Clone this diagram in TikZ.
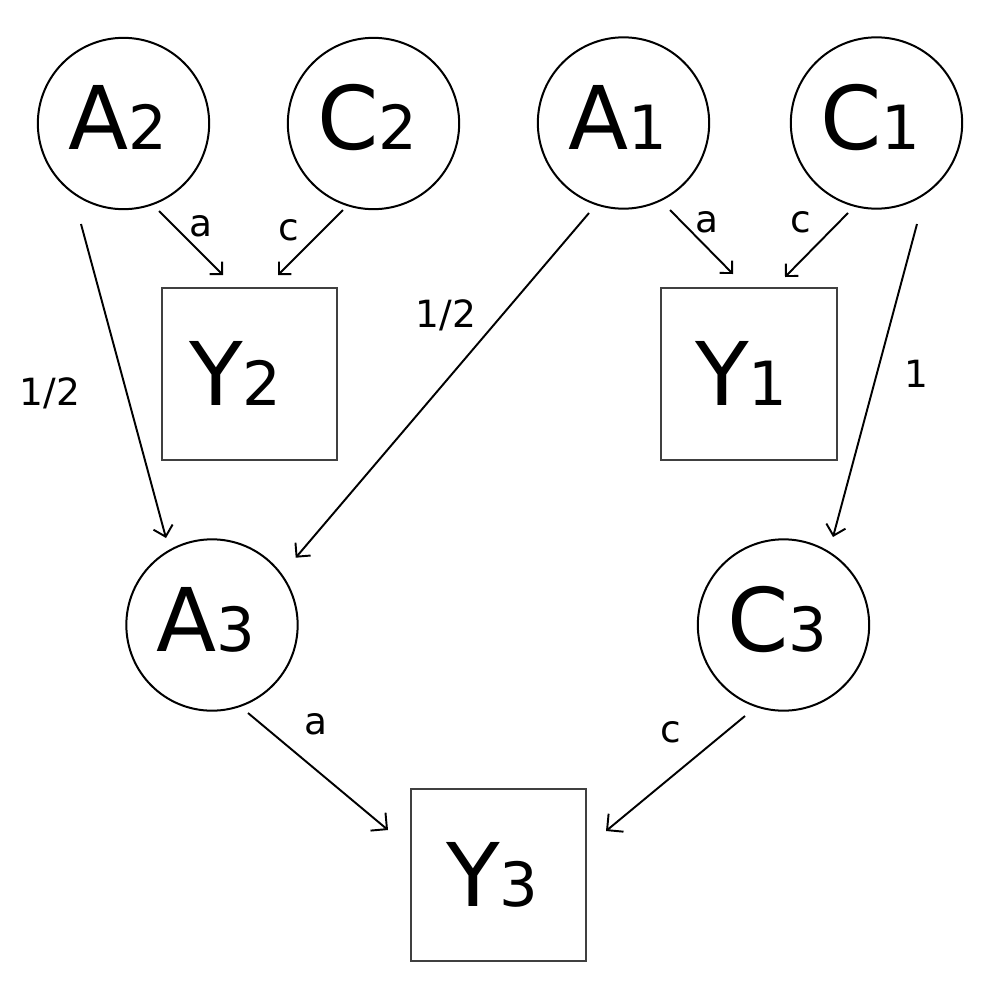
\documentclass[tikz,border=0pt]{standalone}
\usepackage{fontspec}
\setmainfont{DejaVu Sans}
\usetikzlibrary{arrows.meta}
\newcommand\BigTxt[1]{{\fontsize{75}{75}\selectfont #1}}
\newcommand\DigTxt[1]{{\fontsize{52}{52}\selectfont #1}}
\definecolor{boxgray}{HTML}{404040}
\begin{document}
\begin{tikzpicture}[x=0.3mm,y=-0.3mm,
  circnode/.style={circle, draw=black, line width=0.6mm, minimum size=51.4mm, inner sep=0pt, text height=55pt, text depth=10pt},
  boxnode/.style={rectangle, draw=boxgray, line width=0.6mm, minimum width=52.6mm, minimum height=51.6mm, inner sep=0pt},
  lab/.style={font=\fontsize{32}{32}\selectfont, inner sep=0pt, anchor=base},
  arrS/.style={line width=0.58mm, -{Straight Barb[length=2.65mm,width=5.3mm]}},
  arrM/.style={line width=0.58mm, -{Straight Barb[length=2.97mm,width=5.94mm]}},
  arrL/.style={line width=0.58mm, -{Straight Barb[length=3.5mm,width=7mm]}}]
\useasboundingbox (0,0) rectangle (1000,1000);
% circles
\node[circnode] (A2) at (123.5,123.5) {\BigTxt{A}\DigTxt{2}\kern3.6mm};
\node[circnode] (C2) at (373.5,123.5) {\BigTxt{C}\DigTxt{2}\kern3.6mm};
\node[circnode] (A1) at (623.5,123) {\BigTxt{A}\DigTxt{1}\kern3.6mm};
\node[circnode] (C1) at (876.5,123) {\BigTxt{C}\DigTxt{1}\kern3.6mm};
\node[circnode] (A3) at (212,625) {\BigTxt{A}\DigTxt{3}\kern3.6mm};
\node[circnode] (C3) at (783.5,625) {\BigTxt{C}\DigTxt{3}\kern3.6mm};
% boxes
\node[boxnode] (Y2) at (249.5,373.5) {\BigTxt{Y}\DigTxt{2}\kern8.4mm};
\node[boxnode] (Y1) at (749,373.5) {\BigTxt{Y}\DigTxt{1}\kern4.5mm};
\node[boxnode] (Y3) at (498.5,875) {\BigTxt{Y}\DigTxt{3}\kern3.6mm};
% connectors
\draw[arrS] ([shift={(35.5,87.5)}]A2.center) -- ([shift={(-26.5,-98.5)}]Y2.center);
\draw[arrS] ([shift={(-30.5,86.5)}]C2.center) -- ([shift={(28.5,-98.5)}]Y2.center);
\draw[arrM] ([shift={(-42.5,100.5)}]A2.center) -- ([shift={(-46,-87)}]A3.center);
\draw[arrM] ([shift={(-34.5,90)}]A1.center) -- ([shift={(83.7,-67.3)}]A3.center);
\draw[arrS] ([shift={(46.5,87)}]A1.center) -- ([shift={(-16,-99.5)}]Y1.center);
\draw[arrS] ([shift={(-28.5,90)}]C1.center) -- ([shift={(36,-96.5)}]Y1.center);
\draw[arrM] ([shift={(40.5,101)}]C1.center) -- ([shift={(49.5,-88)}]C3.center);
\draw[arrL] ([shift={(36,88)}]A3.center) -- ([shift={(-110.5,-45)}]Y3.center);
\draw[arrL] ([shift={(-38.5,91)}]C3.center) -- ([shift={(107.5,-44)}]Y3.center);
% labels
\node[lab] (la2) at (201,236) {a};
\node[lab] (lc2) at (289,240) {c};
\node[lab] (lh1) at (50,405.7) {1/2};
\node[lab] (lh2) at (446,327.7) {1/2};
\node[lab] (la1) at (707,232) {a};
\node[lab] (lc1) at (801,232) {c};
\node[lab] (lone) at (916,387) {1};
\node[lab] (la3) at (316,734) {a};
\node[lab] (lc3) at (671,742.7) {c};
\end{tikzpicture}
\end{document}
